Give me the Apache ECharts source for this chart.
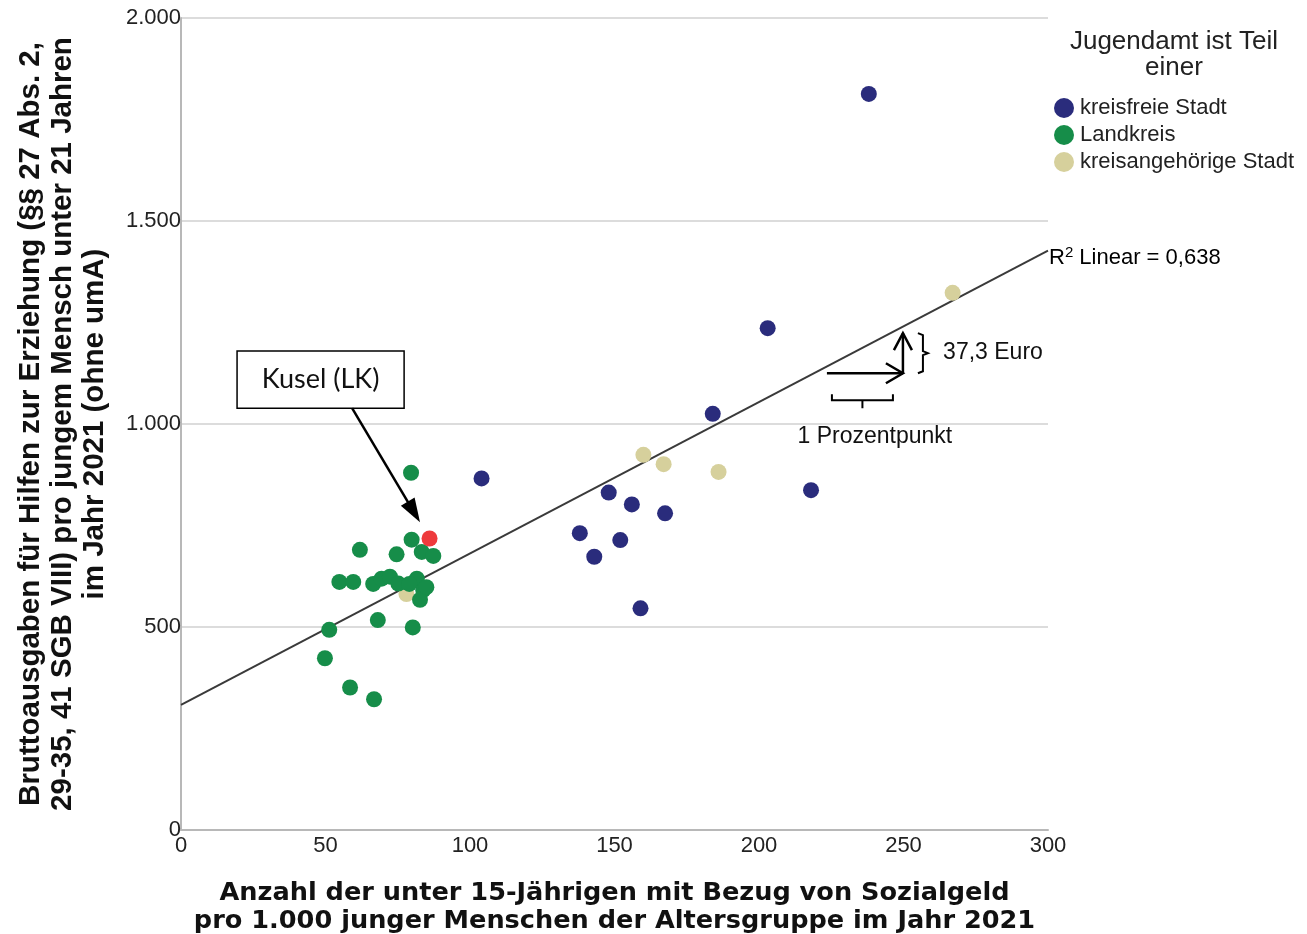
<!DOCTYPE html>
<html>
<head>
<meta charset="utf-8">
<script src="https://cdn.jsdelivr.net/npm/echarts@6/dist/echarts.min.js"></script>
<style>
  html, body { margin: 0; padding: 0; background: #fff; }
  #chart { width: 1307px; height: 934px; }
</style>
</head>
<body>
<div id="chart"></div>
<script>
// Jugendämter: Sozialgeld-Quote (x) vs. HzE-Bruttoausgaben pro jungem Mensch (y)
const kreisfreieStadt = [
  [104, 866], [148, 831], [156, 802], [167.5, 780], [138, 731], [152, 714],
  [143, 673], [159, 546], [238, 1813], [203, 1236], [184, 1025], [218, 837]
];
const landkreis = [
  [79.6, 880], [79.8, 715], [61.9, 690], [74.6, 679], [83.3, 685], [87.3, 675],
  [54.8, 611], [59.6, 611], [66.5, 606], [69.4, 619], [72.3, 624], [75.2, 607],
  [81.6, 619], [83.8, 591], [82.7, 567], [84.9, 598], [79.0, 606], [68.1, 517],
  [80.2, 499], [51.3, 493], [49.8, 423], [58.5, 351], [66.8, 322]
];
const kreisangehoerigeStadt = [
  [160, 924], [167, 901], [186, 882], [267, 1323], [78, 581]
];
const kusel = [[86, 718]];

const seriesNames = ['kreisfreie Stadt', 'Landkreis', 'kreisangehörige Stadt'];
const seriesColors = ['#2a2c7c', '#168d49', '#d6d09c'];
const kuselColor = '#ee3a3c';

// linear fit: 37,3 Euro per Prozentpunkt (= 10 per 1.000)
const fitSlope = 37.3 / 10;
const fitIntercept = 308;
const fitR2Label = '0,638';
const xRange = [0, 300];
const yRange = [0, 2000];

const fitLine = xRange.map(x => [x, fitIntercept + fitSlope * x]);

const FONT = 'Liberation Sans, Arial, sans-serif';
const chart = echarts.init(document.getElementById('chart'), null, { renderer: 'canvas' });

const fmtThousands = v => String(v).replace(/\B(?=(\d{3})+(?!\d))/g, '.');

const option = {
  animation: false,
  backgroundColor: '#ffffff',
  grid: { left: 181, top: 18, width: 867, height: 812, containLabel: false, outerBoundsMode: 'none' },
  xAxis: {
    type: 'value', min: xRange[0], max: xRange[1], interval: 50,
    name: 'Anzahl der unter 15-Jährigen mit Bezug von Sozialgeld\npro 1.000 junger Menschen der Altersgruppe im Jahr 2021',
    nameLocation: 'middle', nameGap: 49,
    nameTextStyle: { fontFamily: 'DejaVu Sans, sans-serif', fontWeight: 'bold', fontSize: 25.6, color: '#111', lineHeight: 28 },
    axisLine: { show: true, lineStyle: { color: '#b8b8b8', width: 2 } },
    axisTick: { show: false },
    axisLabel: { fontFamily: FONT, fontSize: 22, color: '#222', margin: 5 },
    splitLine: { show: false }
  },
  yAxis: {
    type: 'value', min: yRange[0], max: yRange[1], interval: 500,
    name: 'Bruttoausgaben für Hilfen zur Erziehung (§§ 27 Abs. 2,\n29-35, 41 SGB VIII) pro jungem Mensch unter 21 Jahren\nim Jahr 2021 (ohne umA)',
    nameLocation: 'middle', nameGap: 70, nameRotate: 90,
    nameTextStyle: { fontFamily: FONT, fontWeight: 'bold', fontSize: 29.5, color: '#111', lineHeight: 32 },
    axisLine: { show: true, lineStyle: { color: '#b8b8b8', width: 2 } },
    axisTick: { show: false },
    axisLabel: { fontFamily: FONT, fontSize: 22, color: '#222', margin: 0, padding: [4, 0, 0, 0], formatter: fmtThousands },
    splitLine: { show: true, lineStyle: { color: '#dcdcdc', width: 2 } }
  },
  legend: {
    orient: 'vertical', left: 1054, top: 97, padding: 0,
    icon: 'circle', itemWidth: 20, itemHeight: 20, itemGap: 5,
    data: seriesNames,
    textStyle: { fontFamily: FONT, fontSize: 22, color: '#222', lineHeight: 22, padding: [0, 0, 0, 1] }
  },
  series: [
    {
      name: 'R2 Linear', type: 'line', data: fitLine, showSymbol: false, silent: true,
      lineStyle: { color: '#3a3a3a', width: 2 }, z: 1
    },
    {
      name: seriesNames[0], type: 'scatter', data: kreisfreieStadt, symbolSize: 16,
      itemStyle: { color: seriesColors[0], opacity: 1 }, z: 3
    },
    {
      name: seriesNames[1], type: 'scatter', data: landkreis, symbolSize: 16,
      itemStyle: { color: seriesColors[1], opacity: 1 }, z: 3
    },
    {
      name: seriesNames[2], type: 'scatter', data: kreisangehoerigeStadt, symbolSize: 16,
      itemStyle: { color: seriesColors[2], opacity: 1 }, z: 2
    },
    {
      name: 'Kusel (LK)', type: 'scatter', data: kusel, symbolSize: 16,
      itemStyle: { color: kuselColor, opacity: 1 }, z: 4
    }
  ]
};
chart.setOption(option);

// ---- annotations, anchored in data space ----
const px = (x, y) => chart.convertToPixel({ gridIndex: 0 }, [x, y]);
const BLACK = '#000';

// Kusel label box and pointer
const kuselBox = { x0: 19.4, y0: 1180, x1: 77.2, y1: 1039 };
const kuselArrow = { from: [59.2, 1039], to: [82.7, 758] };
// slope illustration
const stepArrow = { start: [223.5, 1125], corner: [249.8, 1125], top: [249.8, 1224] };
const euroLabelAt = [263.7, 1175];
const pointLabelAt = [240.1, 968];

function arrowHeadFilled(p0, p1, len, half) {
  const dx = p1[0] - p0[0], dy = p1[1] - p0[1];
  const d = Math.hypot(dx, dy), ux = dx / d, uy = dy / d;
  const bx = p1[0] - ux * len, by = p1[1] - uy * len;
  return [[p1[0], p1[1]], [bx - uy * half, by + ux * half], [bx + uy * half, by - ux * half]];
}
function chevron(p0, p1, len, half) {
  const t = arrowHeadFilled(p0, p1, len, half);
  return [t[1], t[0], t[2]];
}

const b0 = px(kuselBox.x0, kuselBox.y0), b1 = px(kuselBox.x1, kuselBox.y1);
const ka0 = px(...kuselArrow.from), ka1 = px(...kuselArrow.to);
const s0 = px(...stepArrow.start), s1 = px(...stepArrow.corner), s2 = px(...stepArrow.top);
const eL = px(...euroLabelAt), pL = px(...pointLabelAt);
const fitEnd = px(xRange[1], fitIntercept + fitSlope * xRange[1]);

// braces beside the step arrows
const bx = s1[0] + 15, ym = (s1[1] + s2[1]) / 2;
const rightBrace = [
  [bx, s2[1]], [bx + 5, s2[1] + 2], [bx + 5, ym - 2], [bx + 10, ym],
  [bx + 5, ym + 2], [bx + 5, s1[1] - 2], [bx, s1[1]]
];
const by = s1[1] + 21, bxL = s0[0] + 5, bxR = s1[0] - 10, bxm = (bxL + bxR) / 2;
const bottomBrace = [
  [bxL, by], [bxL, by + 6], [bxR, by + 6], [bxR, by]
];

const graphics = [
  // legend heading
  {
    type: 'text', x: 1174, y: 29, z: 10,
    style: {
      text: 'Jugendamt ist Teil\neiner', align: 'center', verticalAlign: 'top',
      font: '26px ' + FONT, fill: '#222', lineHeight: 26
    }
  },
  // R² label at the end of the fit line
  {
    type: 'text', x: fitEnd[0] + 1, y: fitEnd[1] + 7, z: 10,
    style: {
      text: '{r|R}{s|2}{r| Linear = ' + fitR2Label + '}', verticalAlign: 'middle',
      rich: {
        r: { fontFamily: FONT, fontSize: 22, color: '#222' },
        s: { fontFamily: FONT, fontSize: 15, color: '#222', verticalAlign: 'top', padding: [0, 0, 9, 0] }
      }
    }
  },
  // Kusel box
  {
    type: 'rect', z: 10,
    shape: { x: b0[0], y: b0[1], width: b1[0] - b0[0], height: b1[1] - b0[1] },
    style: { fill: '#fff', stroke: BLACK, lineWidth: 1.5 }
  },
  {
    type: 'text', x: (b0[0] + b1[0]) / 2, y: (b0[1] + b1[1]) / 2, z: 11,
    style: { text: 'Kusel (LK)', align: 'center', verticalAlign: 'middle', font: '27px Lato, Open Sans, sans-serif', fill: '#111' }
  },
  {
    type: 'line', z: 10,
    shape: { x1: ka0[0], y1: ka0[1], x2: ka1[0] - (ka1[0] - ka0[0]) * 0.12, y2: ka1[1] - (ka1[1] - ka0[1]) * 0.12 },
    style: { stroke: BLACK, lineWidth: 2.5 }
  },
  {
    type: 'polygon', z: 10,
    shape: { points: arrowHeadFilled(ka0, ka1, 24, 8) },
    style: { fill: BLACK }
  },
  // step arrows
  { type: 'line', z: 10, shape: { x1: s0[0], y1: s0[1], x2: s1[0], y2: s1[1] }, style: { stroke: BLACK, lineWidth: 2.5 } },
  { type: 'polyline', z: 10, shape: { points: chevron(s0, s1, 17, 10) }, style: { stroke: BLACK, lineWidth: 2.5, fill: null } },
  { type: 'line', z: 10, shape: { x1: s1[0], y1: s1[1], x2: s2[0], y2: s2[1] }, style: { stroke: BLACK, lineWidth: 2.5 } },
  { type: 'polyline', z: 10, shape: { points: chevron(s1, s2, 17, 9) }, style: { stroke: BLACK, lineWidth: 2.5, fill: null } },
  { type: 'polyline', z: 10, shape: { points: rightBrace }, style: { stroke: BLACK, lineWidth: 2, fill: null } },
  { type: 'polyline', z: 10, shape: { points: bottomBrace }, style: { stroke: BLACK, lineWidth: 2, fill: null } },
  { type: 'line', z: 10, shape: { x1: bxm, y1: by + 6, x2: bxm, y2: by + 14 }, style: { stroke: BLACK, lineWidth: 2 } },
  {
    type: 'text', x: eL[0], y: eL[1], z: 10,
    style: { text: '37,3 Euro', align: 'left', verticalAlign: 'middle', font: '23px ' + FONT, fill: '#111' }
  },
  {
    type: 'text', x: pL[0], y: pL[1], z: 10,
    style: { text: '1 Prozentpunkt', align: 'center', verticalAlign: 'middle', font: '23px ' + FONT, fill: '#111' }
  }
];
chart.setOption({ graphic: graphics });
</script>
</body>
</html>
